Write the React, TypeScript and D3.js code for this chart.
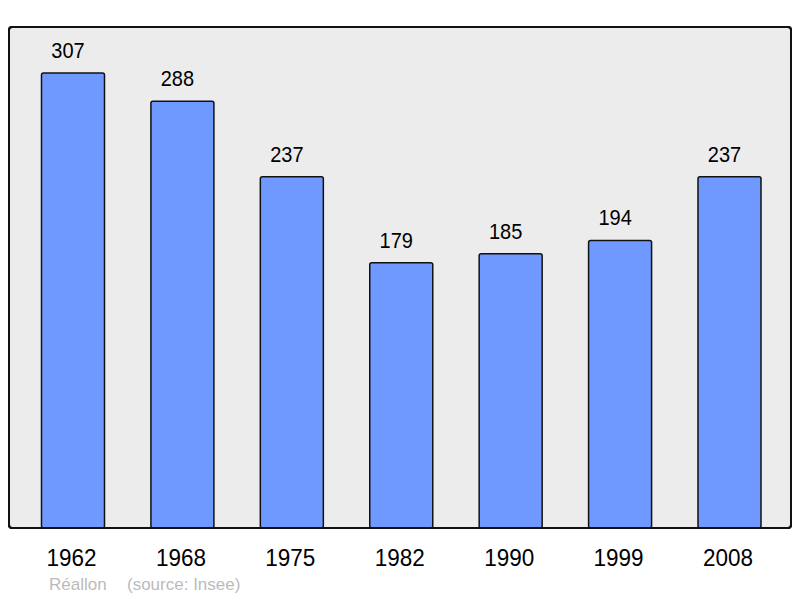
import React from "react";
import * as d3 from "d3";

const years = ["1962", "1968", "1975", "1982", "1990", "1999", "2008"];
const population = [307, 288, 237, 179, 185, 194, 237];
const footerName = "Réallon";
const footerSource = "(source: Insee)";

export default function App() {
  const W = 800, H = 598;
  const panel = { x: 9, y: 27, w: 782, h: 501 };
  const xc = d3.scaleLinear().domain([0, years.length - 1]).range([73, 729.5]);
  const bw = 63;
  const y = d3.scaleLinear().domain([0, 307]).range([528, 73]);
  const font = "Liberation Sans, Arial, sans-serif";
  return (
    <svg width={W} height={H} style={{ position: "absolute", left: 0, top: 0 }}>
      <rect x={panel.x} y={panel.y} width={panel.w} height={panel.h} rx={3} fill="#ececec" stroke="#111" strokeWidth={2} />
      {population.map((v, i) => (
        <g key={years[i]}>
          <rect x={xc(i) - bw / 2} y={y(v)} width={bw} height={y(0) - y(v)} rx={2} fill="#7099ff" stroke="#111" strokeWidth={1.5} />
          <text transform={`translate(${xc(i) - 5},${y(v) - 15}) scale(1,1.07)`} textAnchor="middle" fontFamily={font} fontSize={20} fill="#000">{v}</text>
          <text transform={`translate(${xc(i) - 1.5},${566}) scale(1,1.08)`} textAnchor="middle" fontFamily={font} fontSize={22.5} fill="#000">{years[i]}</text>
        </g>
      ))}
      <rect x={panel.x} y={panel.y} width={panel.w} height={panel.h} rx={3} fill="none" stroke="#111" strokeWidth={2} />
      <text x={49} y={590} fontFamily={font} fontSize={17} fill="#bbb">{footerName}</text>
      <text x={127} y={590} fontFamily={font} fontSize={17} fill="#bbb">{footerSource}</text>
    </svg>
  );
}
